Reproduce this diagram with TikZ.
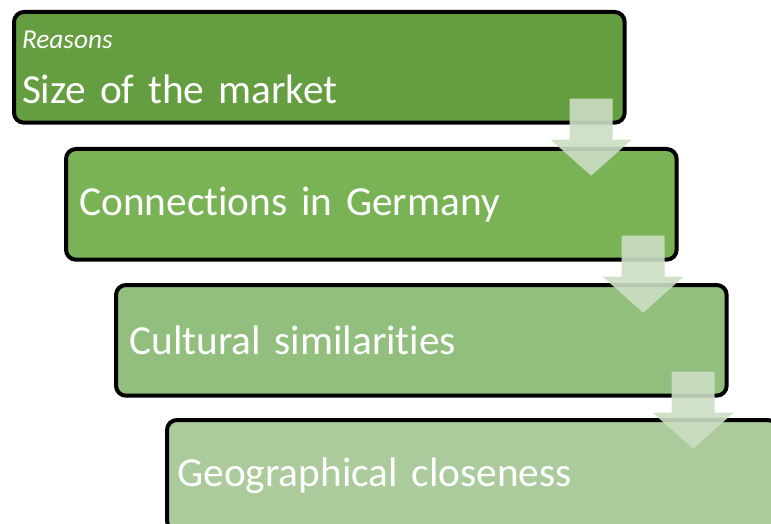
\documentclass[tikz,border=0pt]{standalone}
\usepackage{fontspec}
\setmainfont{Carlito}[Ligatures=NoCommon]
\definecolor{verdeA}{RGB}{101,157,65}
\definecolor{verdeB}{RGB}{122,179,86}
\definecolor{verdeC}{RGB}{146,191,125}
\definecolor{verdeD}{RGB}{172,203,156}
\definecolor{setaCor}{RGB}{204,221,195}
\tikzset{
  caixa/.style={draw=black, line width=3pt, rounded corners=7.5pt, anchor=north west,
    minimum width=458pt, minimum height=83pt, inner xsep=10pt, text width=438pt,
    align=left, text=white, font=\fontsize{31}{37}\selectfont},
  seta/.style={fill=setaCor, fill opacity=0.9},
}
\begin{document}
\begin{tikzpicture}[x=0.75pt,y=-0.75pt]  %Inicio Grafico, unidade em px
  \useasboundingbox (0,0) rectangle (771,524); %Tamanho da figura
  \clip (0,0) rectangle (771,524);
      %Caixas
  \node[caixa, fill=verdeA, inner xsep=6pt, text width=446pt] (mercado) at (12,10)
    {{\fontsize{20.5}{24}\selectfont\itshape Reasons}\\[4pt]Size of the market}; %Caixa 1
  \node[caixa, fill=verdeB] (conexoes) at (64,147) {Connections in Germany}; %Caixa 2
  \node[caixa, fill=verdeC] (cultura) at (114,283) {Cultural similarities}; %Caixa 3
  \node[caixa, fill=verdeD, inner xsep=7.75pt, text width=442.5pt] (geografia) at (165,418) {Geographical closeness}; %Caixa 4
      %Setas entre as caixas
  \foreach \cx in {mercado,conexoes,cultura}{
    \fill[seta] ([shift={(-57,-26)}]\cx.south east) -- ([shift={(-14,-26)}]\cx.south east)
      -- ([shift={(-14,15)}]\cx.south east) -- ([shift={(5,15)}]\cx.south east)
      -- ([shift={(-35.5,51)}]\cx.south east) -- ([shift={(-76,15)}]\cx.south east)
      -- ([shift={(-57,15)}]\cx.south east) -- cycle; %Seta para baixo
  }
\end{tikzpicture}
\end{document}
